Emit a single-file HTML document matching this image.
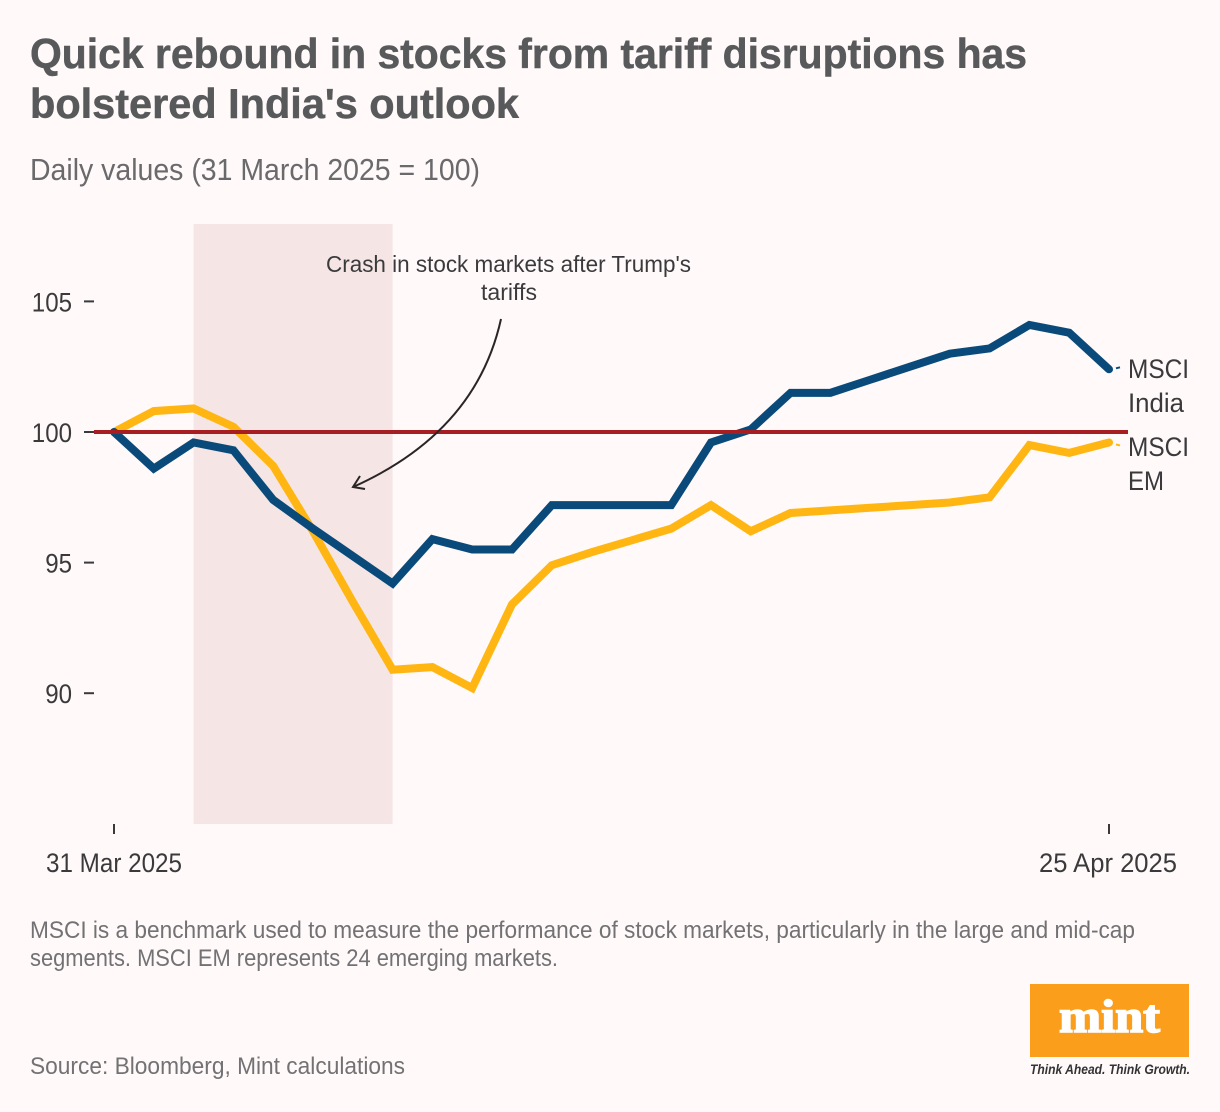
<!DOCTYPE html>
<html lang="en">
<head>
<meta charset="utf-8">
<title>Quick rebound in stocks from tariff disruptions has bolstered India's outlook</title>
<style>
html,body{margin:0;padding:0;background:#fff9f9;}
svg{display:block;font-family:"Liberation Sans",sans-serif;}
.title{font-size:42px;font-weight:700;fill:#58595b;stroke:#58595b;stroke-width:0.5px;}
.sub{font-size:31px;fill:#6a6a6c;}
.axis{font-size:26.5px;fill:#3a3a3c;}
.note{font-size:24px;fill:#727274;}
.anno{font-size:23px;fill:#3a3a3c;}
</style>
</head>
<body>
<svg id="chart" width="1220" height="1112" viewBox="0 0 1220 1112" xmlns="http://www.w3.org/2000/svg">
  <rect x="0" y="0" width="1220" height="1112" fill="#fff9f9"/>
  <text class="title" x="30" y="68" textLength="997" lengthAdjust="spacingAndGlyphs">Quick rebound in stocks from tariff disruptions has</text>
  <text class="title" x="30" y="118" textLength="489" lengthAdjust="spacingAndGlyphs">bolstered India's outlook</text>
  <text class="sub" x="30" y="180" textLength="450" lengthAdjust="spacingAndGlyphs">Daily values (31 March 2025 = 100)</text>
  <rect id="crash-band" y="224" height="600" fill="#f5e5e5"/>
  <g id="y-axis"></g>
  <g id="x-axis"></g>
  <g id="series"></g>
  <line id="ref-line" x1="94" x2="1128" stroke="#a61e22" stroke-width="4"/>
  <text class="anno" x="326" y="272" textLength="365" lengthAdjust="spacingAndGlyphs">Crash in stock markets after Trump's</text>
  <text class="anno" x="481" y="300" textLength="56" lengthAdjust="spacingAndGlyphs">tariffs</text>
  <path d="M501 319 Q476 432 353 487" fill="none" stroke="#2a2526" stroke-width="2"/>
  <path d="M360 476 L353 487 L365 489" fill="none" stroke="#2a2526" stroke-width="2"/>
  <text class="axis" x="1128" y="378" textLength="61" lengthAdjust="spacingAndGlyphs">MSCI</text>
  <text class="axis" x="1128" y="412" textLength="56" lengthAdjust="spacingAndGlyphs">India</text>
  <text class="axis" x="1128" y="456" textLength="61" lengthAdjust="spacingAndGlyphs">MSCI</text>
  <text class="axis" x="1128" y="490" textLength="36" lengthAdjust="spacingAndGlyphs">EM</text>
  <text class="note" x="30" y="938" textLength="1105" lengthAdjust="spacingAndGlyphs">MSCI is a benchmark used to measure the performance of stock markets, particularly in the large and mid-cap</text>
  <text class="note" x="30" y="966" textLength="528" lengthAdjust="spacingAndGlyphs">segments. MSCI EM represents 24 emerging markets.</text>
  <text class="note" x="30" y="1074" textLength="375" lengthAdjust="spacingAndGlyphs">Source: Bloomberg, Mint calculations</text>
  <g>
    <rect x="1030" y="984" width="159" height="73" fill="#fa9e1c"/>
    <text x="1059" y="1032" textLength="101" lengthAdjust="spacingAndGlyphs" style="font-family:'Liberation Serif',serif;font-weight:700;font-size:47px;fill:#ffffff;stroke:#ffffff;stroke-width:1.6px">mint</text>
    <text x="1030" y="1074" textLength="160" lengthAdjust="spacingAndGlyphs" style="font-style:italic;font-weight:700;font-size:13.5px;fill:#333335">Think Ahead. Think Growth.</text>
  </g>
</svg>
<script>
const dayIndex = [0,1,2,3,4,5,6,7,8,9,10,11,12,13,14,15,16,17,18,19,20,21,22,23,24,25];
const msciIndia = [100,98.6,99.6,99.3,97.4,96.3,95.25,94.2,95.9,95.5,95.5,97.2,97.2,97.2,97.2,99.6,100.1,101.5,101.5,102,102.5,103,103.2,104.1,103.8,102.4];
const msciEM = [100,100.8,100.9,100.2,98.7,96.2,93.5,90.9,91,90.2,93.4,94.9,95.4,95.85,96.3,97.2,96.2,96.9,97,97.1,97.2,97.3,97.5,99.5,99.2,99.6];
const yTickValues = [105,100,95,90];
const xTickDays = [0,25];
const xTickLabels = ['31 Mar 2025','25 Apr 2025'];
const referenceValue = 100;
const crashStartDay = 2;
const crashEndDay = 7;

const NS = 'http://www.w3.org/2000/svg';
function xScale(d){ return 114 + d * (1109 - 114) / 25; }
function yScale(v){ return 432 - (v - 100) * 26.12; }

function make(tag, attrs, parent){
  const el = document.createElementNS(NS, tag);
  for (const k in attrs) el.setAttribute(k, attrs[k]);
  parent.appendChild(el);
  return el;
}

const yAxis = document.getElementById('y-axis');
yTickValues.forEach(function(v){
  const tick = make('line', {x1:84, x2:94, y1:yScale(v), y2:yScale(v), stroke:'#3a3a3c', 'stroke-width':2}, yAxis);
  
  
  const text = String(v);
  const w = text.length * 13.4;
  const label = make('text', {x:72 - w, y:yScale(v) + 10, class:'axis', textLength:w, lengthAdjust:'spacingAndGlyphs'}, yAxis);
  
  
  label.textContent = text;
});

const xAxis = document.getElementById('x-axis');
xTickDays.forEach(function(d, i){
  const tick = make('line', {x1:xScale(d), x2:xScale(d), y1:824, y2:834, stroke:'#3a3a3c', 'stroke-width':2}, xAxis);
  
  
  const label = make('text', {x:xScale(d) - (i === 0 ? 68 : 70), y:872, class:'axis', textLength:i === 0 ? 136 : 138, lengthAdjust:'spacingAndGlyphs'}, xAxis);
  
  
  label.textContent = xTickLabels[i];
});

const band = document.getElementById('crash-band');
band.setAttribute('x', xScale(crashStartDay));
band.setAttribute('width', xScale(crashEndDay) - xScale(crashStartDay));

const refLine = document.getElementById('ref-line');
refLine.setAttribute('y1', yScale(referenceValue));
refLine.setAttribute('y2', yScale(referenceValue));

function pathFor(values){
  return values.map(function(v, i){
    return (i === 0 ? 'M' : 'L') + xScale(dayIndex[i]).toFixed(2) + ' ' + yScale(v).toFixed(2);
  }).join(' ');
}

const seriesGroup = document.getElementById('series');

const emLine = make('path', {d:pathFor(msciEM), fill:'none', stroke:'#ffb612', 'stroke-width':8, 'stroke-linejoin':'miter', 'stroke-linecap':'round'}, seriesGroup);



const indiaLine = make('path', {d:pathFor(msciIndia), fill:'none', stroke:'#0a4a7a', 'stroke-width':8, 'stroke-linejoin':'miter', 'stroke-linecap':'round'}, seriesGroup);



const indiaEnd = yScale(msciIndia[msciIndia.length - 1]);
const indiaLeader = make('line', {x1:1116, x2:1120, y1:indiaEnd - 1, y2:indiaEnd - 2, stroke:'#0a4a7a', 'stroke-width':2}, seriesGroup);



const emEnd = yScale(msciEM[msciEM.length - 1]);
const emLeader = make('line', {x1:1116, x2:1120, y1:emEnd + 2, y2:emEnd + 3, stroke:'#ffb612', 'stroke-width':2}, seriesGroup);


</script>
</body>
</html>
